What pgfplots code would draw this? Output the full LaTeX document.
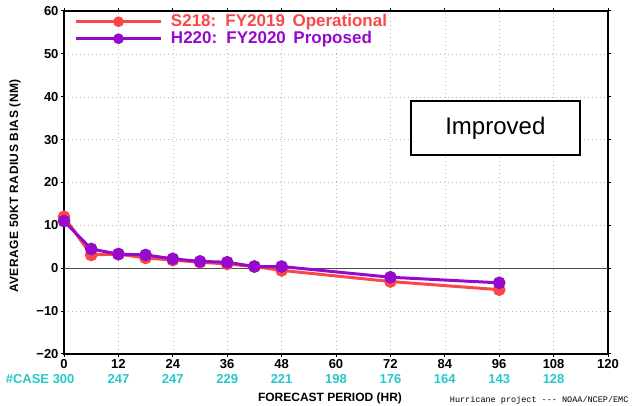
\documentclass[border=0pt]{standalone}
\usepackage{pgfplots}
\pgfplotsset{compat=1.18}
\usepackage{fontspec}
\setmainfont{Liberation Sans}
\newfontfamily\monofont{Liberation Mono}
\definecolor{sred}{RGB}{250,72,72}
\definecolor{hpur}{RGB}{150,10,205}
\definecolor{ccyan}{RGB}{40,200,200}
\begin{document}
\begin{tikzpicture}[x=1pt,y=1pt]
\useasboundingbox (0,0) rectangle (633,406);
\begin{axis}[
  at={(64pt,52pt)}, anchor=south west,
  scale only axis, width=544pt, height=343pt,
  xmin=0, xmax=120, ymin=-20, ymax=60,
  xtick={0,12,...,120}, ytick={-20,-10,...,60},
  yticklabels={−20,−10,0,10,20,30,40,50,60},
  grid=major, grid style={dash pattern=on 1pt off 3pt, gray!55},
  axis line style={line width=1.6pt},
  tick align=outside, major tick length=3pt,
  tick style={black, line width=1pt},
  /pgf/number format/assume math mode=true,
  ticklabel style={font=\fontsize{13}{13}\selectfont\bfseries},
  xticklabel style={yshift=1pt},
  yticklabel style={xshift=1pt},
  legend style={at={(rel axis cs:0.018,0.997)}, anchor=north west, draw=none, fill=none,
    font=\fontsize{17}{17}\selectfont\bfseries, row sep=0pt, inner sep=1pt,
    nodes={text height=12pt, text depth=3pt, inner sep=1pt}},
  legend cell align=left,
  legend image code/.code={\draw[mark repeat=2,mark phase=2,#1,mark size=3.8pt] plot coordinates {(0pt,0pt)(42pt,0pt)(85pt,0pt)};},
  clip=false,
]
\draw[gray!60!black, line width=0.9pt] (axis cs:0,0) -- (axis cs:120,0);
\addplot[sred, line width=3pt, mark=*, mark size=4.8pt] coordinates {
(0,12.0) (6,3.1) (12,3.3) (18,2.4) (24,1.9) (30,1.4) (36,1.0) (42,0.4) (48,-0.5) (72,-3.1) (96,-5.0)};
\addlegendentry{\hspace{7pt}\textcolor{sred}{S218:\, FY2019\, Operational}}
\addplot[hpur, line width=3pt, mark=*, mark size=4.8pt] coordinates {
(0,11.0) (6,4.5) (12,3.3) (18,3.1) (24,2.2) (30,1.6) (36,1.4) (42,0.4) (48,0.4) (72,-2.1) (96,-3.4)};
\addlegendentry{\hspace{7pt}\textcolor{hpur}{H220:\, FY2020\, Proposed}}
\draw[line width=2pt, fill=white] (axis cs:76.5,38.9) rectangle (axis cs:113.8,26.3);
\node[font=\fontsize{24}{24}\selectfont] at (axis cs:95.15,32.6) {Improved};
\end{axis}
\node[rotate=90, font=\fontsize{12}{12}\selectfont\bfseries] at (15,220) {\addfontfeature{LetterSpace=4}AVERAGE 50KT RADIUS BIAS (NM)};
\begin{scope}[every node/.style={text=ccyan, font=\fontsize{13}{13}\selectfont\bfseries}]
\node[anchor=east] at (78,27) {\#CASE 300};
\foreach \xx/\nn in {12/247,24/247,36/229,48/221,60/198,72/176,84/164,96/143,108/128}{
  \node at ({64+\xx*4.53333},27) {\nn};
}
\end{scope}
\node[font=\fontsize{12}{12}\selectfont\bfseries] at (330,8) {FORECAST PERIOD (HR)};
\node[font=\fontsize{8.5}{8.5}\selectfont\monofont, anchor=east] at (632,6) {Hurricane project --- NOAA/NCEP/EMC};
\end{tikzpicture}
\end{document}
